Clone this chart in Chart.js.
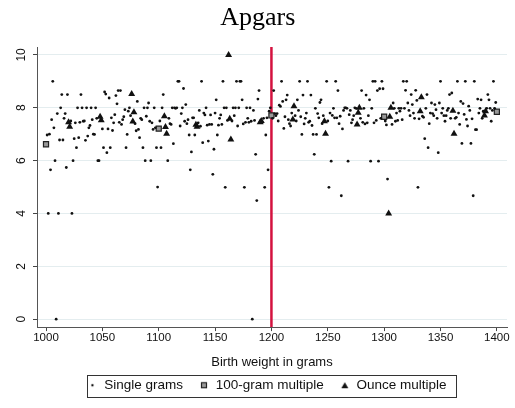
<!DOCTYPE html>
<html>
<head>
<meta charset="utf-8">
<script src="https://cdn.jsdelivr.net/npm/chart.js@4.4.0/dist/chart.umd.min.js"></script>
<style>
  html, body { margin: 0; padding: 0; background: #fff; }
  #wrap { width: 515px; height: 408px; }
</style>
</head>
<body>
<div id="wrap"><canvas id="apgarChart"></canvas></div>
<script>
// tick labels
const xTicks = [1000, 1050, 1100, 1150, 1200, 1250, 1300, 1350, 1400];
const yTicks = [0, 2, 4, 6, 8, 10];
const cutoffGram = 1200;

// mean apgar for every single gram, starting at 1000 g (null = plotted as a multiple)
const firstGram = 1000;
const singleApgar = [
  null, 6.97, 4.0, 7.0, 5.65, 7.55, 9.0, 7.24, 6.0, 0,
  7.78, 4.0, 6.78, 8.0, 8.5, 6.78, 7.6, 7.78, 5.74, 8.5,
  null, null, 7.5, 4.0, 6.0, 6.83, 7.43, 6.49, 8.0, 6.87,
  7.45, 8.5, 8.0, 7.49, 7.5, 6.77, 8.0, 6.93, 7.24, 7.33,
  8.0, 7.55, 7.0, 6.99, 8.0, 7.6, 6.0, 6.0, null, null,
  7.2, 6.49, 8.6, 8.52, 6.3, 7.2, 8.37, 6.49, 7.62, 7.14,
  7.43, 7.74, 8.46, 8.15, 8.65, 7.45, 8.65, 7.37, 7.55, 7.66,
  7.93, 6.49, 6.99, 7.87, 8.0, 7.7, null, null, null, 7.4,
  7.13, 8.24, 7.18, 6.87, 7.6, 7.55, 6.49, 8.0, 6.0, 7.68,
  8.0, 8.18, 7.49, 6.0, 7.43, 7.18, 8.0, 7.24, 6.49, 5.0,
  null, 7.5, 6.49, 8.0, 8.5, null, null, null, 6.0, 7.6,
  7.4, 7.37, 8.0, 6.64, 8.0, 7.98, 8.0, 9.0, 9.0, 7.31,
  7.78, 8.0, 8.73, 7.49, 8.12, 7.4, 7.55, 6.97, 5.65, 6.33,
  7.62, 7.62, 6.97, null, null, 7.43, 7.9, 7.3, 9.0, 6.68,
  7.8, 7.73, 8.0, 7.34, 6.74, 7.37, 7.73, 7.37, 5.48, 6.43,
  7.8, 8.3, 6.97, 7.34, 7.6, 7.73, 7.37, 9.0, 8.0, 4.99,
  8.0, 7.52, null, null, null, 7.5, 8.0, 7.7, 8.0, 9.0,
  7.31, 8.0, 9.0, 9.0, 8.3, 7.39, 4.99, 7.45, 8.0, 7.6,
  7.45, 8.0, 7.49, 0, 7.9, 7.52, 6.24, 4.49, 8.33, 8.65,
  null, null, 7.45, 7.6, 4.99, 6.97, 7.62, 5.65, 7.87, 8.0,
  null, 7.6, 8.65, 7.78, 7.7, 7.78, 7.5, 8.1, 8.05, 9.0,
  8.24, 7.22, 7.66, 8.3, 8.48, 7.55, 7.4, 7.31, 7.8, null,
  null, 7.7, 7.5, 8.3, 7.9, 9.0, 7.66, 6.99, 8.48, 7.39,
  7.6, 7.8, 9.0, 7.45, 7.49, 8.48, 7.33, 6.99, 6.24, 7.98,
  6.99, 7.78, 7.62, 8.2, 8.3, 7.4, 7.7, null, null, 9.0,
  7.5, 4.99, 7.8, 5.98, 7.71, 7.98, 7.62, 9.0, 7.62, 8.65,
  7.4, 7.68, 4.67, 7.2, 7.9, 8.0, 8.0, 7.98, 5.98, 7.74,
  7.9, 7.43, 7.55, 7.7, 8.0, 7.98, null, null, null, 7.6,
  8.65, 7.45, 7.98, 7.39, 8.48, 7.43, 7.7, 8.3, 5.98, 7.98,
  9.0, 7.43, 9.0, 7.52, 8.65, 5.98, 8.72, 7.6, 9.0, 8.72,
  null, 7.5, 7.35, 5.3, null, null, null, 7.37, 8.18, 7.98,
  7.49, 7.8, 7.52, 7.98, 7.87, 7.98, 7.55, 9.0, 7.98, 8.66,
  9.0, 8.18, 7.9, 7.7, 8.5, 8.12, 7.8, 7.6, 8.66, 8.28,
  4.99, 7.58, null, null, 7.68, 7.64, 6.83, 7.98, 8.5, 6.49,
  7.4, 7.8, 8.18, 7.78, 7.7, 8.12, 7.93, 7.6, 6.3, 8.18,
  9.0, 7.8, 7.98, 7.7, 7.49, 7.7, 7.9, 7.98, 8.5, 7.6,
  8.56, null, null, 7.6, 7.64, 9.0, 7.8, 7.37, 8.24, 6.65,
  8.16, 7.75, 9.0, 7.56, 7.31, 8.06, 7.9, 6.65, 7.58, 4.67,
  9.0, 7.17, 7.17, 8.33, 7.8, 7.98, 8.3, 7.6, 7.87, null,
  null, 7.98, 8.5, 8.3, 7.98, 7.49, 7.9, 9.0, 7.98, 8.2,
  null
];

// 100-gram multiples
const hundredGrams = [1000, 1100, 1200, 1300, 1400];
const hundredApgar = [6.62, 7.21, 7.71, 7.66, 7.85];

// ounce multiples
const ounceGrams = [1020, 1021, 1048, 1049, 1076, 1077, 1078, 1105, 1106, 1107, 1133, 1134,
  1162, 1163, 1164, 1190, 1191, 1219, 1220, 1247, 1248, 1276, 1277, 1278, 1304, 1305, 1306,
  1332, 1333, 1361, 1362, 1389, 1390];
const ounceApgar = [7.45, 7.28, 7.66, 7.53, 8.52, 7.48, 7.83, 7.68, 7.27, 7.02, 7.36, 7.28,
  10, 7.58, 6.8, 7.45, 7.5, 7.56, 8.06, 7.49, 7.02, 7.37, 7.81, 8.0, 4.0, 7.66, 8.0,
  7.87, 8.4, 7.89, 7.02, 7.71, 7.87];

const sans = "'Liberation Sans', Arial, sans-serif";

// legend markers: drawn toward the right of an 18px wide box
const MARK_AT = 13;
const LEGEND_PAD = 8;
function marker(kind) {
  const c = document.createElement('canvas');
  c.width = 18; c.height = 8;
  const g = c.getContext('2d');
  const cx = MARK_AT;
  if (kind === 'dot') {
    g.fillStyle = '#111';
    g.beginPath(); g.arc(cx, 4, 1.2, 0, Math.PI * 2); g.fill();
  } else if (kind === 'square') {
    g.fillStyle = '#999';
    g.fillRect(cx - 2.5, 1.5, 5, 5);
    g.strokeStyle = '#222'; g.lineWidth = 1.2;
    g.strokeRect(cx - 2.5, 1.5, 5, 5);
  } else {
    g.fillStyle = '#111';
    g.beginPath(); g.moveTo(cx, 1); g.lineTo(cx + 3.5, 7); g.lineTo(cx - 3.5, 7); g.closePath(); g.fill();
  }
  return c;
}
const legendMarkers = [marker('dot'), marker('square'), marker('tri')];

// nudge the legend left a bit and frame it like Stata does
const legendFrame = {
  id: 'legendFrame',
  beforeDraw(chart) {
    const lg = chart.legend;
    if (!lg || lg._nudged === lg.top + ':' + lg.left) return;
    lg.left -= 9;
    lg.right -= 9;
    lg._nudged = lg.top + ':' + lg.left;
  },
  afterDraw(chart) {
    const lg = chart.legend;
    if (!lg || !lg.lineWidths) return;
    const ctx = chart.ctx;
    const rowW = lg.lineWidths[0];
    const start = (lg.left + LEGEND_PAD + lg.right - rowW) / 2;
    const left = start + MARK_AT - 5;
    const right = start + rowW - LEGEND_PAD + 10;
    const mid = lg.top + lg.height / 2;
    ctx.save();
    ctx.strokeStyle = '#333';
    ctx.lineWidth = 1;
    ctx.strokeRect(Math.round(left) + 0.5, Math.round(mid - 11) + 0.5, Math.round(right - left), 22);
    ctx.restore();
  }
};

const ctx = document.getElementById('apgarChart').getContext('2d');
const apgarChart = new Chart(ctx, {
  type: 'scatter',
  data: {
    datasets: [
      {
        label: 'Single grams',
        data: singleApgar.map((v, i) => ({ x: firstGram + i, y: v })).filter(p => p.y !== null),
        pointStyle: 'circle',
        pointRadius: 1.4,
        backgroundColor: '#111',
        borderWidth: 0,
      },
      {
        label: '100-gram multiple',
        data: hundredGrams.map((g, i) => ({ x: g, y: hundredApgar[i] })),
        pointStyle: 'rect',
        pointRadius: 3.6,
        backgroundColor: '#999',
        borderColor: '#222',
        borderWidth: 1.2,
      },
      {
        label: 'Ounce multiple',
        data: ounceGrams.map((g, i) => ({ x: g, y: ounceApgar[i] })),
        pointStyle: 'triangle',
        pointRadius: 4,
        backgroundColor: '#111',
        borderWidth: 0,
      },
      {
        label: 'cutoff',
        type: 'line',
        data: [{ x: cutoffGram, y: -0.3 }, { x: cutoffGram, y: 10.3 }],
        borderColor: '#d4123f',
        borderWidth: 2.5,
        pointRadius: 0,
      },
    ],
  },
  options: {
    responsive: true,
    maintainAspectRatio: false,
    animation: false,
    layout: { padding: { left: 8.6, right: 8, top: 0, bottom: 6 } },
    plugins: {
      title: {
        display: true,
        text: 'Apgars',
        color: '#000',
        font: { family: "'Liberation Serif', 'Times New Roman', serif", size: 26, weight: 'normal' },
        padding: { top: 3, bottom: 12.8 },
      },
      legend: {
        position: 'bottom',
        fullSize: false,
        labels: {
          color: '#111',
          font: { family: sans, size: 13.5 },
          usePointStyle: true,
          boxWidth: 18,
          boxHeight: 8,
          pointStyleWidth: 18,
          padding: LEGEND_PAD,
          generateLabels(chart) {
            return chart.data.datasets.slice(0, 3).map((ds, i) => ({
              text: ds.label,
              pointStyle: legendMarkers[i],
              fillStyle: '#111',
              strokeStyle: '#111',
              lineWidth: 0,
              fontColor: '#111',
              hidden: false,
              datasetIndex: i,
            }));
          },
        },
      },
      tooltip: { enabled: false },
    },
    scales: {
      x: {
        type: 'linear',
        min: 992,
        max: 1409,
        afterBuildTicks: scale => { scale.ticks = xTicks.map(v => ({ value: v })); },
        grid: { drawOnChartArea: false, drawTicks: true, tickLength: 4, tickColor: '#444' },
        border: { color: '#555', width: 1 },
        ticks: {
          color: '#111',
          font: { family: sans, size: 11.5 },
          padding: 0,
          maxRotation: 0,
          callback: v => String(v),
        },
        title: {
          display: true,
          text: 'Birth weight in grams',
          color: '#111',
          font: { family: sans, size: 13 },
          padding: { top: 10, bottom: 0 },
        },
      },
      y: {
        type: 'linear',
        min: -0.3,
        max: 10.3,
        afterBuildTicks: scale => { scale.ticks = yTicks.map(v => ({ value: v })); },
        grid: { color: '#e4edef', lineWidth: 1, drawTicks: true, tickLength: 4, tickColor: '#444' },
        border: { color: '#555', width: 1 },
        ticks: {
          color: '#111',
          font: { family: sans, size: 12 },
          padding: 5,
          minRotation: 90,
          maxRotation: 90,
          crossAlign: 'center',
          callback: v => String(v),
        },
      },
    },
  },
  plugins: [legendFrame],
});
</script>
</body>
</html>
